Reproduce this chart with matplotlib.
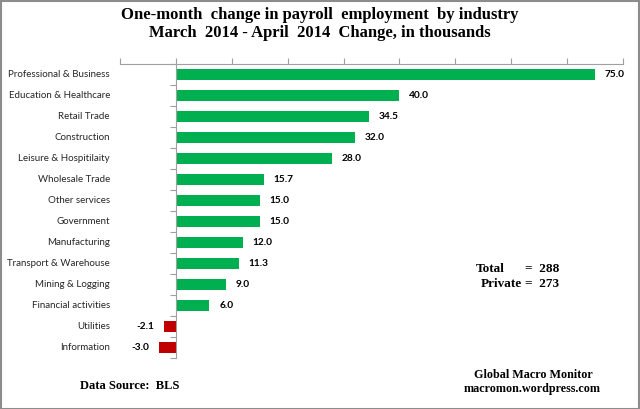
import numpy as np
import matplotlib
matplotlib.use("Agg")
import matplotlib.pyplot as plt
from matplotlib.patches import Rectangle

# data, top to bottom as in the chart
industries = ["Professional & Business", "Education & Healthcare", "Retail Trade",
              "Construction", "Leisure & Hospitilaity", "Wholesale Trade",
              "Other services", "Government", "Manufacturing",
              "Transport & Warehouse", "Mining & Logging", "Financial activities",
              "Utilities", "Information"]
change = [75.0, 40.0, 34.5, 32.0, 28.0, 15.7, 15.0, 15.0, 12.0, 11.3, 9.0, 6.0, -2.1, -3.0]
total_jobs = 288
private_jobs = 273

GREEN = "#00B050"
RED = "#C00000"
SERIF = "Liberation Serif"
SANS = "Lato"

fig = plt.figure(figsize=(6.4, 4.09), dpi=100)
ax = fig.add_axes([120/640, 1-358/409, 503/640, 294/409])

n = len(industries)
ypos = np.arange(n)
colors = [GREEN if v >= 0 else RED for v in change]
ax.barh(ypos, change, height=0.5, color=colors, zorder=2)
ax.set_ylim(n - 0.5, -0.5)
ax.set_xlim(-10, 80)

# top axis with ticks, no labels
ax.xaxis.tick_top()
ax.set_xticks(np.arange(-10, 81, 10))
ax.tick_params(axis="x", direction="out", length=4, color="#a0a0a0", labeltop=False, labelbottom=False)
for s in ["left", "right", "bottom"]:
    ax.spines[s].set_visible(False)
ax.spines["top"].set_color("#a0a0a0")

# zero line acts as category axis, ticks between bars
ax.spines["left"].set_visible(True)
ax.spines["left"].set_position(("data", 0))
ax.spines["left"].set_color("#a0a0a0")
ax.set_yticks(np.arange(n + 1) - 0.5)
ax.tick_params(axis="y", direction="out", length=4, color="#a0a0a0", labelleft=False)

# category labels
for y, name in zip(ypos, industries):
    ax.text(-0.02, y, name, transform=ax.get_yaxis_transform(), ha="right", va="center",
            fontsize=7.0, family=SANS, color="#262626")

# value labels
for y, v in zip(ypos, change):
    if v >= 0:
        ax.annotate(f"{v:.1f}", (v, y), xytext=(7, 0), textcoords="offset points",
                    ha="left", va="center", fontsize=7.3, fontweight="bold", family=SANS)
    else:
        ax.annotate(f"{v:.1f}", (v, y), xytext=(-7, 0), textcoords="offset points",
                    ha="right", va="center", fontsize=7.3, fontweight="bold", family=SANS)

fig.text(0.5, 1-15/409, "One-month  change in payroll  employment  by industry",
         ha="center", va="center", fontsize=12, fontweight="bold", family=SERIF)
fig.text(0.5, 1-33/409, "March  2014 - April  2014  Change, in thousands",
         ha="center", va="center", fontsize=12, fontweight="bold", family=SERIF)

fig.text(476/640, 1-269/409, "Total", ha="left", va="center", fontsize=9.5, fontweight="bold", family=SERIF)
fig.text(525/640, 1-269/409, f"=  {total_jobs}", ha="left", va="center", fontsize=9.5, fontweight="bold", family=SERIF)
fig.text(481/640, 1-284/409, "Private", ha="left", va="center", fontsize=9.5, fontweight="bold", family=SERIF)
fig.text(525/640, 1-284/409, f"=  {private_jobs}", ha="left", va="center", fontsize=9.5, fontweight="bold", family=SERIF)

fig.text(80/640, 1-386/409, "Data Source:  BLS", ha="left", va="center", fontsize=9, fontweight="bold", family=SERIF)
fig.text(533/640, 1-375/409, "Global Macro Monitor", ha="center", va="center", fontsize=8.7, fontweight="bold", family=SERIF)
fig.text(532/640, 1-389/409, "macromon.wordpress.com", ha="center", va="center", fontsize=8.7, fontweight="bold", family=SERIF)

# outer frame
fig.patches.append(Rectangle((0.001, 0.001), 0.997, 0.996, transform=fig.transFigure,
                             fill=False, edgecolor="#8c8c8c", linewidth=1.5))

fig.savefig("out.png", dpi=100)
